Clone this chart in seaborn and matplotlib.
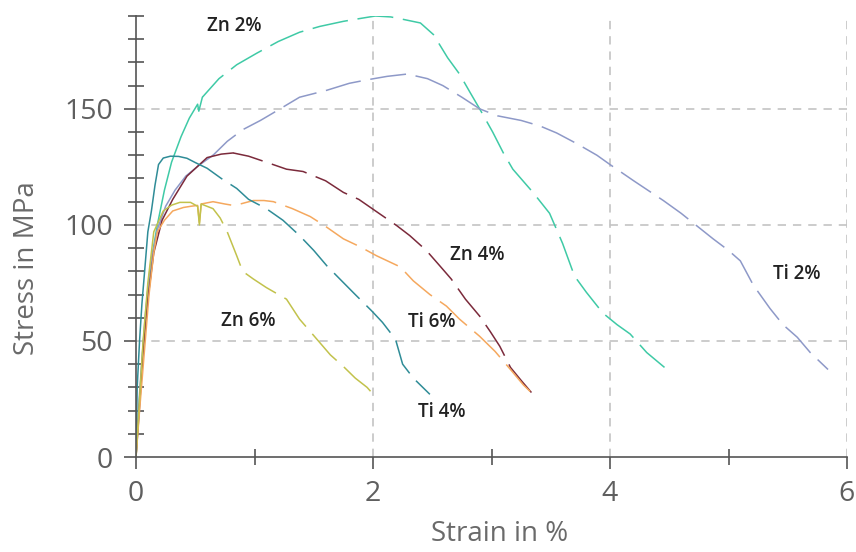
import matplotlib
matplotlib.use("Agg")
import matplotlib.pyplot as plt
import seaborn as sns
import numpy as np
from matplotlib.ticker import MultipleLocator, FixedLocator

# ---------------- data ----------------
zn2_strain = [0, 0.03, 0.06, 0.1, 0.14, 0.18, 0.24, 0.3, 0.38, 0.45, 0.52, 0.53, 0.56, 0.7, 0.85, 1.02, 1.2,
              1.38, 1.55, 1.75, 1.9, 2.02, 2.15, 2.25, 2.4, 2.51, 2.63, 2.73, 2.82, 2.9, 3.01, 3.1, 3.18, 3.35,
              3.49, 3.6, 3.7, 3.8, 3.94, 4.06, 4.17, 4.31, 4.46]
zn2_stress = [0, 25, 48, 72, 88, 100, 115, 127, 138, 146, 152, 149, 155, 163, 169, 174, 179,
              183, 185.5, 187.7, 189, 190, 189.6, 188.6, 187, 182, 172, 165, 157, 150, 140, 131, 124, 114,
              105, 92, 78, 71, 62, 57, 53, 45, 38.6]

ti2_strain = [0, 0.02, 0.05, 0.08, 0.12, 0.18, 0.25, 0.33, 0.42, 0.54, 0.65, 0.77, 0.9, 1.05, 1.15, 1.38,
              1.61, 1.8, 1.95, 2.12, 2.29, 2.46, 2.59, 2.75, 2.9, 3.05, 3.25, 3.41, 3.55, 3.72, 3.89, 4.0,
              4.2, 4.45, 4.6, 4.73, 4.87, 5.0, 5.1, 5.21, 5.35, 5.46, 5.58, 5.69, 5.84]
ti2_stress = [0, 20, 42, 62, 82, 98, 108, 115, 121, 126, 130, 136, 141, 145, 148, 155,
              158, 161, 162.5, 164, 165, 163, 160, 155, 150, 147, 145, 142.6, 139.6, 135, 130, 126,
              119, 110.5, 105, 99.7, 94, 89, 84.5, 74, 64, 57, 51.6, 45, 37.7]

zn4_strain = [0, 0.03, 0.06, 0.1, 0.15, 0.22, 0.31, 0.43, 0.6, 0.72, 0.82, 0.95, 1.1, 1.27, 1.41, 1.6,
              1.75, 1.88, 2.03, 2.2, 2.31, 2.45, 2.57, 2.66, 2.78, 2.9, 2.99, 3.07, 3.16, 3.25, 3.35]
zn4_stress = [0, 22, 45, 68, 88, 102, 111, 121, 129, 130.5, 131, 129.6, 127, 124, 123, 119,
              114, 111, 105.7, 99.7, 95.4, 89, 82, 76.7, 68, 60.7, 54, 47.7, 38.6, 33, 27]

ti6_strain = [0, 0.03, 0.07, 0.11, 0.15, 0.18, 0.24, 0.31, 0.4, 0.46, 0.52, 0.535, 0.55, 0.65, 0.75,
              0.82, 0.88, 0.99, 1.08, 1.16, 1.32, 1.47, 1.59, 1.75, 1.89, 2.03, 2.23, 2.34, 2.48, 2.62,
              2.73, 2.9, 3.03, 3.16, 3.27, 3.38]
ti6_stress = [0, 20, 45, 70, 88, 97, 102, 106, 107.5, 108, 108.4, 101, 109, 110, 109,
              108.4, 109, 110.5, 110.5, 110, 107, 103.6, 99.7, 94, 90.6, 86.7, 81.9, 75.9, 70, 65,
              59.4, 52, 45.5, 37.7, 31, 25.6]

ti4_strain = [0, 0.01, 0.03, 0.05, 0.076, 0.1, 0.13, 0.16, 0.19, 0.23, 0.29, 0.36, 0.43, 0.51, 0.6,
              0.72, 0.85, 0.95, 1.1, 1.24, 1.38, 1.5, 1.61, 1.72, 1.85, 1.99, 2.08, 2.19, 2.25, 2.34, 2.48]
ti4_stress = [0, 30, 50, 66, 82, 97, 106, 117, 126, 128.8, 129.6, 129.5, 128.7, 126.6, 124.4,
              120, 115.7, 111, 107, 102, 95.4, 89, 82.4, 76.7, 70, 62.9, 58, 50.7, 40, 34, 27]

zn6_strain = [0, 0.03, 0.06, 0.1, 0.15, 0.23, 0.3, 0.37, 0.46, 0.52, 0.535, 0.55, 0.6, 0.65, 0.71,
              0.77, 0.85, 0.9, 0.99, 1.1, 1.27, 1.38, 1.49, 1.64, 1.75, 1.85, 1.95, 2.02]
zn6_stress = [0, 25, 50, 75, 97, 106, 108.5, 109.7, 109.7, 108, 100, 109, 108, 107, 103,
              97, 86.7, 80, 76.7, 73, 68, 59.4, 52.9, 44, 39, 34, 30, 26]

labels = ["Zn 2%", "Ti 2%", "Zn 4%", "Ti 6%", "Ti 4%", "Zn 6%"]
label_x = [0.83, 5.58, 2.88, 2.50, 2.58, 0.95]
label_y = [185.5, 79, 87, 58, 19.5, 58.5]

x_ticks = [0, 2, 4, 6]
y_ticks = [0, 50, 100, 150]

# ---------------- style ----------------
sns.set_style("white")
plt.rcParams['font.family'] = ['Open Sans', 'DejaVu Sans']
plt.rcParams['lines.scale_dashes'] = False

curves = [
    (zn2_strain, zn2_stress, "#3fcaa6", 0.56),
    (ti2_strain, ti2_stress, "#8e99c8", 0.65),
    (zn4_strain, zn4_stress, "#7b2a3b", 0.82),
    (ti6_strain, ti6_stress, "#f5a85e", 0.55),
    (ti4_strain, ti4_stress, "#2f8c97", 0.51),
    (zn6_strain, zn6_stress, "#c2c24c", 0.55),
]

fig = plt.figure(figsize=(8.56, 5.52), dpi=100)
ax = fig.add_axes([136 / 856, 95 / 552, 711 / 856, 441 / 552])

grid_kw = dict(color="#c4c4c4", lw=1.2, linestyle=(0, (6, 5)), zorder=0)
for gx in x_ticks[1:]:
    ax.axvline(gx, **grid_kw)
for gy in y_ticks[1:]:
    ax.axhline(gy, **grid_kw)

for xs, ys, col, solid_until in curves:
    xs = np.asarray(xs)
    ys = np.asarray(ys)
    k = int(np.searchsorted(xs, solid_until, side="right"))
    sns.lineplot(x=xs[:k], y=ys[:k], ax=ax, color=col, lw=1.1, sort=False, estimator=None)
    sns.lineplot(x=xs[k - 1:], y=ys[k - 1:], ax=ax, color=col, lw=1.1, sort=False, estimator=None,
                 linestyle=(4, (26, 7)))

for t, lx, ly in zip(labels, label_x, label_y):
    ax.text(lx, ly, t, ha="center", va="center", fontsize=13.5, fontweight="semibold", color="#222222")

ax.set_xlim(0, 6)
ax.set_ylim(0, 190)
for s in ["top", "right"]:
    ax.spines[s].set_visible(False)
for s in ["left", "bottom"]:
    ax.spines[s].set_color("#555555")
    ax.spines[s].set_linewidth(1.2)

ax.xaxis.set_major_locator(FixedLocator(x_ticks))
ax.yaxis.set_major_locator(FixedLocator(y_ticks))
ax.xaxis.set_minor_locator(MultipleLocator(1))
ax.yaxis.set_minor_locator(MultipleLocator(10))
ax.tick_params(which="both", bottom=True, left=True)
ax.tick_params(which="major", direction="out", length=8.5, width=1.2, color="#555555",
               labelsize=20.5, labelcolor="#5f5f5f", pad=8)
ax.tick_params(which="minor", direction="inout", length=12, width=1.2, color="#555555")

ax.set_xlabel("Strain in %", fontsize=20, color="#6a6a6a")
ax.set_ylabel("Stress in MPa", fontsize=20, color="#6a6a6a")
ax.xaxis.set_label_coords(0.512, -0.143)
ax.yaxis.set_label_coords(-0.134, 0.4286)

fig.savefig("out.png", dpi=100)
